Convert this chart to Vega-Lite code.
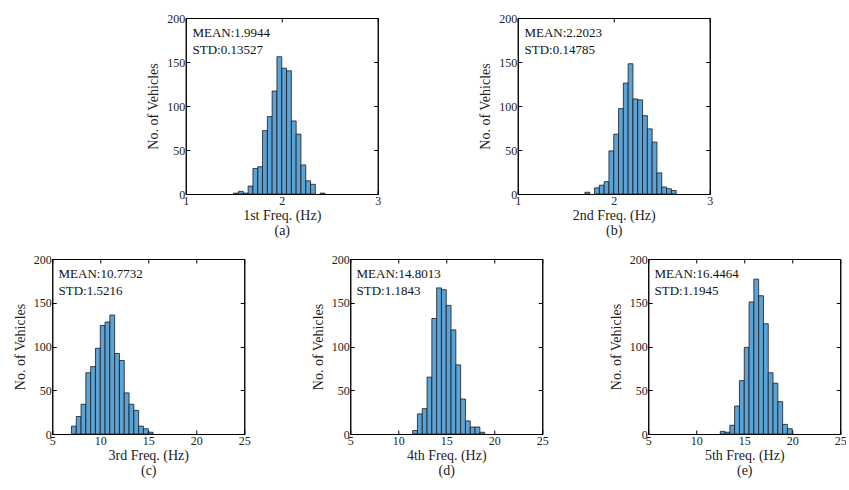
{
  "$schema": "https://vega.github.io/schema/vega-lite/v6.json",
  "background": "white",
  "padding": {"left": 12, "top": 11, "right": -1, "bottom": 0},
  "datasets": {
    "hist": [
      {"p":"a","x0":1.50,"x1":1.55,"n":1},{"p":"a","x0":1.55,"x1":1.60,"n":3},{"p":"a","x0":1.60,"x1":1.65,"n":1},{"p":"a","x0":1.65,"x1":1.70,"n":9},{"p":"a","x0":1.70,"x1":1.75,"n":29},{"p":"a","x0":1.75,"x1":1.80,"n":31},{"p":"a","x0":1.80,"x1":1.85,"n":72},{"p":"a","x0":1.85,"x1":1.90,"n":88},{"p":"a","x0":1.90,"x1":1.95,"n":117},{"p":"a","x0":1.95,"x1":2.00,"n":156},{"p":"a","x0":2.00,"x1":2.05,"n":143},{"p":"a","x0":2.05,"x1":2.10,"n":140},{"p":"a","x0":2.10,"x1":2.15,"n":83},{"p":"a","x0":2.15,"x1":2.20,"n":68},{"p":"a","x0":2.20,"x1":2.25,"n":33},{"p":"a","x0":2.25,"x1":2.30,"n":15},{"p":"a","x0":2.30,"x1":2.35,"n":11},{"p":"a","x0":2.40,"x1":2.45,"n":1},
      {"p":"b","x0":1.70,"x1":1.75,"n":2},{"p":"b","x0":1.80,"x1":1.85,"n":7},{"p":"b","x0":1.85,"x1":1.90,"n":10},{"p":"b","x0":1.90,"x1":1.95,"n":14},{"p":"b","x0":1.95,"x1":2.00,"n":49},{"p":"b","x0":2.00,"x1":2.05,"n":68},{"p":"b","x0":2.05,"x1":2.10,"n":97},{"p":"b","x0":2.10,"x1":2.15,"n":126},{"p":"b","x0":2.15,"x1":2.20,"n":148},{"p":"b","x0":2.20,"x1":2.25,"n":108},{"p":"b","x0":2.25,"x1":2.30,"n":107},{"p":"b","x0":2.30,"x1":2.35,"n":89},{"p":"b","x0":2.35,"x1":2.40,"n":74},{"p":"b","x0":2.40,"x1":2.45,"n":59},{"p":"b","x0":2.45,"x1":2.50,"n":24},{"p":"b","x0":2.50,"x1":2.55,"n":8},{"p":"b","x0":2.55,"x1":2.60,"n":6},{"p":"b","x0":2.60,"x1":2.65,"n":4},
      {"p":"c","x0":7.0,"x1":7.5,"n":9},{"p":"c","x0":7.5,"x1":8.0,"n":20},{"p":"c","x0":8.0,"x1":8.5,"n":34},{"p":"c","x0":8.5,"x1":9.0,"n":70},{"p":"c","x0":9.0,"x1":9.5,"n":77},{"p":"c","x0":9.5,"x1":10.0,"n":98},{"p":"c","x0":10.0,"x1":10.5,"n":124},{"p":"c","x0":10.5,"x1":11.0,"n":128},{"p":"c","x0":11.0,"x1":11.5,"n":136},{"p":"c","x0":11.5,"x1":12.0,"n":92},{"p":"c","x0":12.0,"x1":12.5,"n":84},{"p":"c","x0":12.5,"x1":13.0,"n":47},{"p":"c","x0":13.0,"x1":13.5,"n":34},{"p":"c","x0":13.5,"x1":14.0,"n":27},{"p":"c","x0":14.0,"x1":14.5,"n":9},{"p":"c","x0":14.5,"x1":15.0,"n":6},{"p":"c","x0":15.0,"x1":15.5,"n":2},
      {"p":"d","x0":11.5,"x1":12.0,"n":4},{"p":"d","x0":12.0,"x1":12.5,"n":23},{"p":"d","x0":12.5,"x1":13.0,"n":29},{"p":"d","x0":13.0,"x1":13.5,"n":65},{"p":"d","x0":13.5,"x1":14.0,"n":132},{"p":"d","x0":14.0,"x1":14.5,"n":167},{"p":"d","x0":14.5,"x1":15.0,"n":165},{"p":"d","x0":15.0,"x1":15.5,"n":147},{"p":"d","x0":15.5,"x1":16.0,"n":119},{"p":"d","x0":16.0,"x1":16.5,"n":79},{"p":"d","x0":16.5,"x1":17.0,"n":40},{"p":"d","x0":17.0,"x1":17.5,"n":15},{"p":"d","x0":17.5,"x1":18.0,"n":8},{"p":"d","x0":18.0,"x1":18.5,"n":8},{"p":"d","x0":18.5,"x1":19.0,"n":2},
      {"p":"e","x0":12.5,"x1":13.0,"n":3},{"p":"e","x0":13.0,"x1":13.5,"n":2},{"p":"e","x0":13.5,"x1":14.0,"n":10},{"p":"e","x0":14.0,"x1":14.5,"n":32},{"p":"e","x0":14.5,"x1":15.0,"n":61},{"p":"e","x0":15.0,"x1":15.5,"n":99},{"p":"e","x0":15.5,"x1":16.0,"n":151},{"p":"e","x0":16.0,"x1":16.5,"n":177},{"p":"e","x0":16.5,"x1":17.0,"n":158},{"p":"e","x0":17.0,"x1":17.5,"n":126},{"p":"e","x0":17.5,"x1":18.0,"n":70},{"p":"e","x0":18.0,"x1":18.5,"n":58},{"p":"e","x0":18.5,"x1":19.0,"n":37},{"p":"e","x0":19.0,"x1":19.5,"n":11},{"p":"e","x0":19.5,"x1":20.0,"n":6}
    ],
    "stats": [
      {"p":"a","mean":"MEAN:1.9944","std":"STD:0.13527"},
      {"p":"b","mean":"MEAN:2.2023","std":"STD:0.14785"},
      {"p":"c","mean":"MEAN:10.7732","std":"STD:1.5216"},
      {"p":"d","mean":"MEAN:14.8013","std":"STD:1.1843"},
      {"p":"e","mean":"MEAN:16.4464","std":"STD:1.1945"}
    ]
  },
  "config": {
    "font": "Liberation Serif, Times New Roman, serif",
    "view": {"stroke": "#000000", "strokeWidth": 1},
    "axis": {
      "grid": false, "format": "d", "labelFlush": false,
      "labelFont": "Liberation Serif, Times New Roman, serif", "labelFontSize": 12, "labelColor": "#222",
      "titleFont": "Liberation Serif, Times New Roman, serif", "titleFontSize": 14, "titleFontWeight": "normal", "titleColor": "#222",
      "tickColor": "#000", "tickSize": -4, "domainColor": "#000", "labelPadding": 5, "titleLineHeight": 15
    },
    "axisX": {"titlePadding": 2},
    "axisY": {"titlePadding": 6},
    "text": {"font": "Liberation Serif, Times New Roman, serif", "fontSize": 13, "color": "#111"}
  },
  "vconcat": [
    {
      "hconcat": [
        {
          "width": 192, "height": 176,
          "layer": [
            {"data": {"name": "hist"}, "transform": [{"filter": "datum.p === 'a'"}],
             "mark": {"type": "bar", "color": "#5ba3d6", "stroke": "#1a1a1a", "strokeWidth": 0.8},
             "encoding": {
               "x": {"field": "x0", "type": "quantitative", "scale": {"domain": [1, 3], "nice": false}, "axis": {"orient": "bottom", "values": [1, 2, 3], "title": ["1st Freq. (Hz)", "(a)"]}},
               "x2": {"field": "x1"},
               "y": {"field": "n", "type": "quantitative", "scale": {"domain": [0, 200], "nice": false}, "axis": {"orient": "left", "values": [0, 50, 100, 150, 200], "title": "No. of Vehicles"}},
               "y2": {"datum": 0}}},
            {"data": {"name": "hist"}, "transform": [{"filter": "datum.p === 'a'"}],
             "mark": {"type": "bar", "opacity": 0},
             "encoding": {
               "x": {"field": "x0", "type": "quantitative", "scale": {"domain": [1, 3], "nice": false}, "axis": {"orient": "top", "values": [1, 2, 3], "labels": false, "title": null}},
               "x2": {"field": "x1"},
               "y": {"field": "n", "type": "quantitative", "scale": {"domain": [0, 200], "nice": false}, "axis": {"orient": "right", "values": [0, 50, 100, 150, 200], "labels": false, "title": null}},
               "y2": {"datum": 0}}},
            {"data": {"name": "stats"}, "transform": [{"filter": "datum.p === 'a'"}],
             "mark": {"type": "text", "align": "left", "baseline": "top"},
             "encoding": {"x": {"datum": 1.07, "type": "quantitative", "axis": null}, "y": {"datum": 190, "type": "quantitative", "axis": null}, "text": {"field": "mean"}}},
            {"data": {"name": "stats"}, "transform": [{"filter": "datum.p === 'a'"}],
             "mark": {"type": "text", "align": "left", "baseline": "top", "dy": 17},
             "encoding": {"x": {"datum": 1.07, "type": "quantitative", "axis": null}, "y": {"datum": 190, "type": "quantitative", "axis": null}, "text": {"field": "std"}}}
          ],
          "resolve": {"axis": {"x": "independent", "y": "independent"}}
        },
        {
          "width": 192, "height": 176,
          "layer": [
            {"data": {"name": "hist"}, "transform": [{"filter": "datum.p === 'b'"}],
             "mark": {"type": "bar", "color": "#5ba3d6", "stroke": "#1a1a1a", "strokeWidth": 0.8},
             "encoding": {
               "x": {"field": "x0", "type": "quantitative", "scale": {"domain": [1, 3], "nice": false}, "axis": {"orient": "bottom", "values": [1, 2, 3], "title": ["2nd Freq. (Hz)", "(b)"]}},
               "x2": {"field": "x1"},
               "y": {"field": "n", "type": "quantitative", "scale": {"domain": [0, 200], "nice": false}, "axis": {"orient": "left", "values": [0, 50, 100, 150, 200], "title": "No. of Vehicles"}},
               "y2": {"datum": 0}}},
            {"data": {"name": "hist"}, "transform": [{"filter": "datum.p === 'b'"}],
             "mark": {"type": "bar", "opacity": 0},
             "encoding": {
               "x": {"field": "x0", "type": "quantitative", "scale": {"domain": [1, 3], "nice": false}, "axis": {"orient": "top", "values": [1, 2, 3], "labels": false, "title": null}},
               "x2": {"field": "x1"},
               "y": {"field": "n", "type": "quantitative", "scale": {"domain": [0, 200], "nice": false}, "axis": {"orient": "right", "values": [0, 50, 100, 150, 200], "labels": false, "title": null}},
               "y2": {"datum": 0}}},
            {"data": {"name": "stats"}, "transform": [{"filter": "datum.p === 'b'"}],
             "mark": {"type": "text", "align": "left", "baseline": "top"},
             "encoding": {"x": {"datum": 1.07, "type": "quantitative", "axis": null}, "y": {"datum": 190, "type": "quantitative", "axis": null}, "text": {"field": "mean"}}},
            {"data": {"name": "stats"}, "transform": [{"filter": "datum.p === 'b'"}],
             "mark": {"type": "text", "align": "left", "baseline": "top", "dy": 17},
             "encoding": {"x": {"datum": 1.07, "type": "quantitative", "axis": null}, "y": {"datum": 190, "type": "quantitative", "axis": null}, "text": {"field": "std"}}}
          ],
          "resolve": {"axis": {"x": "independent", "y": "independent"}}
        }
      ],
      "spacing": 96
    },
    {
      "hconcat": [
        {
          "width": 192, "height": 175,
          "layer": [
            {"data": {"name": "hist"}, "transform": [{"filter": "datum.p === 'c'"}],
             "mark": {"type": "bar", "color": "#5ba3d6", "stroke": "#1a1a1a", "strokeWidth": 0.8},
             "encoding": {
               "x": {"field": "x0", "type": "quantitative", "scale": {"domain": [5, 25], "nice": false}, "axis": {"orient": "bottom", "values": [5, 10, 15, 20, 25], "title": ["3rd Freq. (Hz)", "(c)"]}},
               "x2": {"field": "x1"},
               "y": {"field": "n", "type": "quantitative", "scale": {"domain": [0, 200], "nice": false}, "axis": {"orient": "left", "values": [0, 50, 100, 150, 200], "title": "No. of Vehicles"}},
               "y2": {"datum": 0}}},
            {"data": {"name": "hist"}, "transform": [{"filter": "datum.p === 'c'"}],
             "mark": {"type": "bar", "opacity": 0},
             "encoding": {
               "x": {"field": "x0", "type": "quantitative", "scale": {"domain": [5, 25], "nice": false}, "axis": {"orient": "top", "values": [5, 10, 15, 20, 25], "labels": false, "title": null}},
               "x2": {"field": "x1"},
               "y": {"field": "n", "type": "quantitative", "scale": {"domain": [0, 200], "nice": false}, "axis": {"orient": "right", "values": [0, 50, 100, 150, 200], "labels": false, "title": null}},
               "y2": {"datum": 0}}},
            {"data": {"name": "stats"}, "transform": [{"filter": "datum.p === 'c'"}],
             "mark": {"type": "text", "align": "left", "baseline": "top"},
             "encoding": {"x": {"datum": 5.65, "type": "quantitative", "axis": null}, "y": {"datum": 190, "type": "quantitative", "axis": null}, "text": {"field": "mean"}}},
            {"data": {"name": "stats"}, "transform": [{"filter": "datum.p === 'c'"}],
             "mark": {"type": "text", "align": "left", "baseline": "top", "dy": 17},
             "encoding": {"x": {"datum": 5.65, "type": "quantitative", "axis": null}, "y": {"datum": 190, "type": "quantitative", "axis": null}, "text": {"field": "std"}}}
          ],
          "resolve": {"axis": {"x": "independent", "y": "independent"}}
        },
        {
          "width": 192, "height": 175,
          "layer": [
            {"data": {"name": "hist"}, "transform": [{"filter": "datum.p === 'd'"}],
             "mark": {"type": "bar", "color": "#5ba3d6", "stroke": "#1a1a1a", "strokeWidth": 0.8},
             "encoding": {
               "x": {"field": "x0", "type": "quantitative", "scale": {"domain": [5, 25], "nice": false}, "axis": {"orient": "bottom", "values": [5, 10, 15, 20, 25], "title": ["4th Freq. (Hz)", "(d)"]}},
               "x2": {"field": "x1"},
               "y": {"field": "n", "type": "quantitative", "scale": {"domain": [0, 200], "nice": false}, "axis": {"orient": "left", "values": [0, 50, 100, 150, 200], "title": "No. of Vehicles"}},
               "y2": {"datum": 0}}},
            {"data": {"name": "hist"}, "transform": [{"filter": "datum.p === 'd'"}],
             "mark": {"type": "bar", "opacity": 0},
             "encoding": {
               "x": {"field": "x0", "type": "quantitative", "scale": {"domain": [5, 25], "nice": false}, "axis": {"orient": "top", "values": [5, 10, 15, 20, 25], "labels": false, "title": null}},
               "x2": {"field": "x1"},
               "y": {"field": "n", "type": "quantitative", "scale": {"domain": [0, 200], "nice": false}, "axis": {"orient": "right", "values": [0, 50, 100, 150, 200], "labels": false, "title": null}},
               "y2": {"datum": 0}}},
            {"data": {"name": "stats"}, "transform": [{"filter": "datum.p === 'd'"}],
             "mark": {"type": "text", "align": "left", "baseline": "top"},
             "encoding": {"x": {"datum": 5.65, "type": "quantitative", "axis": null}, "y": {"datum": 190, "type": "quantitative", "axis": null}, "text": {"field": "mean"}}},
            {"data": {"name": "stats"}, "transform": [{"filter": "datum.p === 'd'"}],
             "mark": {"type": "text", "align": "left", "baseline": "top", "dy": 17},
             "encoding": {"x": {"datum": 5.65, "type": "quantitative", "axis": null}, "y": {"datum": 190, "type": "quantitative", "axis": null}, "text": {"field": "std"}}}
          ],
          "resolve": {"axis": {"x": "independent", "y": "independent"}}
        },
        {
          "width": 192, "height": 175,
          "layer": [
            {"data": {"name": "hist"}, "transform": [{"filter": "datum.p === 'e'"}],
             "mark": {"type": "bar", "color": "#5ba3d6", "stroke": "#1a1a1a", "strokeWidth": 0.8},
             "encoding": {
               "x": {"field": "x0", "type": "quantitative", "scale": {"domain": [5, 25], "nice": false}, "axis": {"orient": "bottom", "values": [5, 10, 15, 20, 25], "title": ["5th Freq. (Hz)", "(e)"]}},
               "x2": {"field": "x1"},
               "y": {"field": "n", "type": "quantitative", "scale": {"domain": [0, 200], "nice": false}, "axis": {"orient": "left", "values": [0, 50, 100, 150, 200], "title": "No. of Vehicles"}},
               "y2": {"datum": 0}}},
            {"data": {"name": "hist"}, "transform": [{"filter": "datum.p === 'e'"}],
             "mark": {"type": "bar", "opacity": 0},
             "encoding": {
               "x": {"field": "x0", "type": "quantitative", "scale": {"domain": [5, 25], "nice": false}, "axis": {"orient": "top", "values": [5, 10, 15, 20, 25], "labels": false, "title": null}},
               "x2": {"field": "x1"},
               "y": {"field": "n", "type": "quantitative", "scale": {"domain": [0, 200], "nice": false}, "axis": {"orient": "right", "values": [0, 50, 100, 150, 200], "labels": false, "title": null}},
               "y2": {"datum": 0}}},
            {"data": {"name": "stats"}, "transform": [{"filter": "datum.p === 'e'"}],
             "mark": {"type": "text", "align": "left", "baseline": "top"},
             "encoding": {"x": {"datum": 5.65, "type": "quantitative", "axis": null}, "y": {"datum": 190, "type": "quantitative", "axis": null}, "text": {"field": "mean"}}},
            {"data": {"name": "stats"}, "transform": [{"filter": "datum.p === 'e'"}],
             "mark": {"type": "text", "align": "left", "baseline": "top", "dy": 17},
             "encoding": {"x": {"datum": 5.65, "type": "quantitative", "axis": null}, "y": {"datum": 190, "type": "quantitative", "axis": null}, "text": {"field": "std"}}}
          ],
          "resolve": {"axis": {"x": "independent", "y": "independent"}}
        }
      ],
      "spacing": 59
    }
  ],
  "center": true,
  "spacing": 14
}
